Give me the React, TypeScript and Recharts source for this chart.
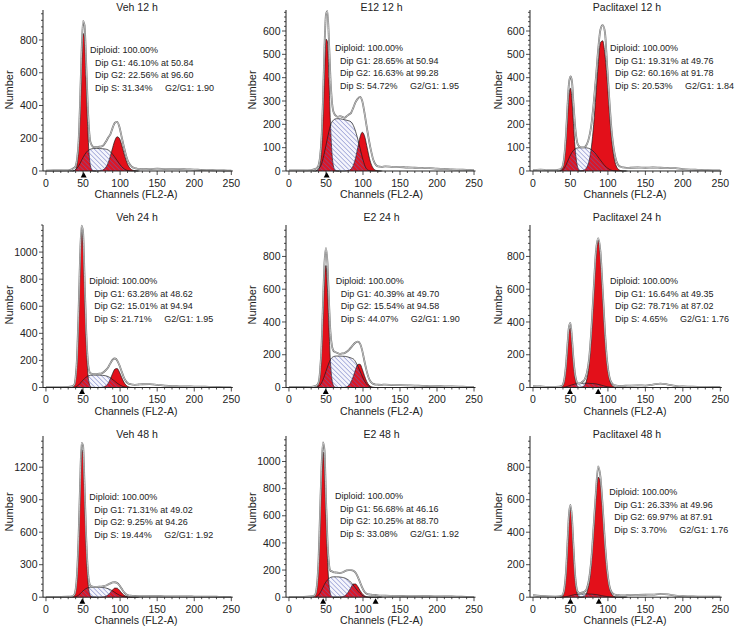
import React from 'react'
import { ComposedChart, Area, Line, Scatter, XAxis, YAxis } from 'recharts'

const FONT = '"Liberation Sans", Arial, Helvetica, sans-serif'
const RED = '#e3101a'
const INK = '#222'

// channel grids the values below were read on
const RAW_CH = [0, 10, 20, 30, 35, 38, 40, 42, 44, 46, 48, 50, 52, 54, 56, 58, 60, 63, 66, 69, 72, 75, 78, 81, 84, 87, 90, 93, 96, 99, 102, 105, 108, 111, 114, 117, 120, 125, 130, 140, 150, 160, 170, 180, 190, 200, 210, 220, 230, 240, 250]
const G1_CH = [32, 34, 36, 38, 40, 42, 44, 46, 48, 50, 52, 54, 56, 58, 60, 62, 64, 66, 68]
const G2_CH = [60, 63, 66, 69, 72, 75, 78, 81, 84, 87, 90, 93, 96, 99, 102, 105, 108, 111, 114, 117, 120, 123, 126]
const S_CH = [36, 40, 44, 48, 52, 56, 60, 64, 68, 72, 76, 80, 84, 88, 92, 96, 100, 104, 108, 112, 116, 120, 124]

const X_MAJOR = [0, 50, 100, 150, 200, 250]

// Veh 12 h
const veh12Raw = [2, 3, 3, 4, 10, 20, 30, 75, 180, 420, 720, 915, 890, 690, 440, 260, 175, 150, 145, 145, 148, 150, 160, 180, 205, 225, 265, 295, 300, 270, 210, 150, 95, 55, 35, 22, 18, 12, 13, 12, 14, 12, 11, 12, 10, 9, 6, 5, 4, 3, 2]
const veh12G1 = [0, 0, 0, 1, 9, 43, 143, 349, 628, 840, 812, 573, 300, 115, 32, 7, 1, 0, 0]
const veh12G2 = [0, 0, 0, 0, 1, 3, 10, 24, 51, 93, 143, 187, 209, 200, 162, 112, 66, 33, 14, 5, 2, 0, 0]
const veh12S = [0, 8, 30, 65, 98, 122, 133, 137, 138, 137, 136, 134, 128, 112, 90, 64, 38, 18, 6, 1, 0, 0, 0]
const veh12Stats = ['46.10', '50.84', '22.56', '96.60', '31.34', '1.90']
const veh12Marks = [50.84]

// E12 12 h
const e12Raw = [3, 3, 3, 4, 8, 14, 25, 60, 140, 310, 530, 670, 685, 560, 400, 300, 255, 238, 232, 235, 232, 228, 235, 242, 250, 272, 295, 310, 318, 300, 250, 190, 133, 85, 47, 28, 20, 18, 20, 18, 17, 15, 14, 13, 12, 10, 9, 7, 6, 5, 4]
const e12G1 = [0, 0, 0, 1, 6, 27, 91, 226, 412, 565, 555, 393, 209, 81, 23, 5, 1, 0, 0]
const e12G2 = [0, 0, 0, 0, 0, 0, 1, 2, 9, 25, 56, 101, 145, 166, 151, 110, 64, 30, 11, 3, 1, 0, 0]
const e12S = [0, 10, 30, 80, 140, 195, 218, 224, 224, 222, 219, 216, 210, 188, 148, 98, 48, 12, 2, 0, 0, 0, 0]
const e12Stats = ['28.65', '50.94', '16.63', '99.28', '54.72', '1.95']
const e12Marks = [50.94]

// Paclitaxel 12 h
const pac12Raw = [4, 6, 4, 4, 6, 12, 25, 70, 155, 275, 375, 405, 385, 290, 200, 140, 112, 103, 101, 103, 115, 145, 200, 290, 400, 520, 605, 625, 595, 450, 300, 170, 90, 45, 25, 18, 15, 13, 14, 15, 14, 15, 14, 13, 12, 8, 6, 5, 4, 3, 3]
const pac12G1 = [0, 0, 1, 5, 18, 54, 126, 229, 323, 355, 304, 203, 105, 43, 13, 3, 1, 0, 0]
const pac12G2 = [0, 0, 2, 5, 17, 45, 103, 199, 326, 456, 550, 558, 500, 390, 250, 135, 60, 22, 7, 2, 0, 0, 0]
const pac12S = [0, 5, 25, 55, 80, 94, 99, 100, 100, 99, 95, 86, 72, 55, 38, 22, 11, 4, 1, 0, 0, 0, 0]
const pac12Stats = ['19.31', '49.76', '60.16', '91.78', '20.53', '1.84']
const pac12Marks: number[] = []

// Veh 24 h
const veh24Raw = [3, 3, 3, 4, 8, 18, 75, 230, 560, 960, 1195, 1150, 820, 460, 230, 130, 105, 100, 98, 100, 102, 105, 115, 130, 150, 180, 205, 214, 200, 165, 120, 75, 45, 30, 25, 22, 20, 22, 24, 25, 20, 14, 10, 9, 8, 7, 6, 5, 4, 3, 3]
const veh24G1 = [0, 0, 3, 15, 68, 219, 522, 900, 1150, 1075, 740, 380, 143, 39, 8, 1, 0, 0, 0]
const veh24G2 = [0, 0, 0, 0, 0, 1, 4, 12, 32, 65, 105, 136, 140, 115, 76, 40, 17, 6, 1, 0, 0, 0, 0]
const veh24S = [0, 4, 18, 42, 66, 83, 90, 92, 92, 91, 90, 87, 80, 67, 50, 32, 17, 7, 2, 0, 0, 0, 0]
const veh24Stats = ['63.28', '48.62', '15.01', '94.94', '21.71', '1.95']
const veh24Marks = [48.62]

// E2 24 h
const e224Raw = [3, 3, 3, 4, 8, 14, 30, 100, 250, 520, 760, 850, 760, 530, 340, 255, 225, 215, 210, 205, 208, 210, 218, 230, 245, 262, 275, 280, 268, 225, 160, 100, 55, 32, 22, 18, 17, 16, 18, 15, 14, 13, 12, 10, 9, 8, 7, 6, 5, 4, 3]
const e224G1 = [0, 0, 1, 4, 20, 75, 212, 440, 667, 745, 607, 365, 161, 52, 13, 2, 0, 0, 0]
const e224G2 = [0, 0, 0, 0, 0, 1, 4, 14, 35, 69, 110, 141, 142, 112, 72, 37, 15, 5, 1, 0, 0, 0, 0]
const e224S = [0, 6, 28, 72, 125, 170, 188, 192, 192, 191, 190, 186, 180, 170, 140, 100, 58, 25, 7, 1, 0, 0, 0]
const e224Stats = ['40.39', '49.70', '15.54', '94.58', '44.07', '1.90']
const e224Marks = [49.7]

// Paclitaxel 24 h
const pac24Raw = [8, 6, 4, 4, 5, 8, 18, 55, 135, 260, 370, 395, 300, 175, 85, 40, 25, 25, 35, 50, 90, 180, 360, 600, 830, 912, 830, 600, 345, 160, 65, 28, 15, 12, 10, 10, 10, 11, 12, 13, 12, 18, 24, 18, 10, 6, 5, 4, 4, 3, 3]
const pac24G1 = [0, 0, 0, 3, 12, 45, 121, 237, 345, 362, 278, 158, 66, 20, 5, 1, 0, 0, 0]
const pac24G2 = [0, 1, 4, 15, 53, 147, 324, 572, 804, 900, 804, 572, 324, 147, 53, 15, 4, 1, 0, 0, 0, 0, 0]
const pac24S = [0, 1, 4, 10, 16, 21, 24, 25, 26, 26, 25, 24, 22, 18, 13, 8, 4, 2, 0, 0, 0, 0, 0]
const pac24Stats = ['16.64', '49.35', '78.71', '87.02', '4.65', '1.76']
const pac24Marks = [49.35, 87.02]

// Veh 48 h
const veh48Raw = [3, 3, 3, 4, 8, 20, 70, 230, 560, 1030, 1425, 1400, 1040, 600, 300, 150, 105, 97, 95, 96, 97, 98, 102, 108, 118, 128, 136, 138, 130, 110, 80, 48, 28, 18, 14, 12, 11, 10, 10, 9, 9, 8, 8, 7, 7, 6, 5, 5, 4, 3, 3]
const veh48G1 = [0, 0, 2, 13, 60, 207, 522, 969, 1365, 1330, 969, 522, 207, 60, 13, 2, 0, 0, 0]
const veh48G2 = [0, 0, 0, 0, 0, 1, 3, 9, 23, 44, 68, 84, 83, 65, 40, 20, 8, 2, 1, 0, 0, 0, 0]
const veh48S = [0, 4, 18, 45, 70, 86, 92, 93, 93, 92, 90, 86, 78, 65, 48, 30, 15, 6, 2, 0, 0, 0, 0]
const veh48Stats = ['71.31', '49.02', '9.25', '94.26', '19.44', '1.92']
const veh48Marks = [49.02]

// E2 48 h
const e248Raw = [3, 3, 3, 5, 15, 100, 280, 620, 960, 1140, 1080, 730, 420, 250, 195, 190, 185, 182, 180, 178, 182, 190, 198, 200, 200, 195, 180, 150, 110, 70, 40, 25, 20, 18, 17, 16, 14, 12, 11, 10, 9, 8, 8, 7, 7, 6, 5, 5, 4, 3, 3]
const e248G1 = [0, 4, 20, 82, 248, 549, 893, 1070, 939, 606, 287, 100, 26, 5, 1, 0, 0, 0, 0]
const e248G2 = [0, 0, 0, 1, 3, 9, 23, 46, 74, 97, 97, 78, 50, 26, 11, 3, 1, 0, 0, 0, 0, 0, 0]
const e248S = [0, 15, 50, 95, 128, 145, 150, 150, 149, 146, 140, 128, 108, 80, 52, 28, 10, 2, 0, 0, 0, 0, 0]
const e248Stats = ['56.68', '46.16', '10.25', '88.70', '33.08', '1.92']
const e248Marks = [46.16, 117]

// Paclitaxel 48 h
const pac48Raw = [12, 8, 5, 4, 5, 8, 18, 58, 155, 330, 510, 568, 490, 315, 150, 60, 30, 25, 30, 35, 55, 115, 240, 440, 650, 805, 740, 560, 340, 170, 70, 30, 18, 14, 12, 11, 11, 12, 13, 14, 15, 16, 20, 17, 10, 6, 5, 4, 4, 3, 3]
const pac48G1 = [0, 0, 0, 2, 12, 48, 141, 303, 478, 555, 473, 296, 136, 46, 11, 2, 0, 0, 0]
const pac48G2 = [0, 0, 2, 8, 31, 92, 217, 409, 615, 738, 705, 537, 326, 158, 61, 19, 5, 1, 0, 0, 0, 0, 0]
const pac48S = [0, 1, 3, 7, 12, 16, 18, 19, 20, 20, 19, 18, 16, 13, 9, 6, 3, 1, 0, 0, 0, 0, 0]
const pac48Stats = ['26.33', '49.96', '69.97', '87.91', '3.70', '1.76']
const pac48Marks = [49.96, 87.91]

const PANELS = [
  { title: 'Veh 12 h', raw: veh12Raw, g1: veh12G1, g2: veh12G2, s: veh12S, stats: veh12Stats, marks: veh12Marks, yMax: 983, yMajor: [0, 200, 400, 600, 800], yMinor: 40 },
  { title: 'E12 12 h', raw: e12Raw, g1: e12G1, g2: e12G2, s: e12S, stats: e12Stats, marks: e12Marks, yMax: 690, yMajor: [0, 100, 200, 300, 400, 500, 600], yMinor: 20 },
  { title: 'Paclitaxel 12 h', raw: pac12Raw, g1: pac12G1, g2: pac12G2, s: pac12S, stats: pac12Stats, marks: pac12Marks, yMax: 690, yMajor: [0, 100, 200, 300, 400, 500, 600], yMinor: 20 },
  { title: 'Veh 24 h', raw: veh24Raw, g1: veh24G1, g2: veh24G2, s: veh24S, stats: veh24Stats, marks: veh24Marks, yMax: 1200, yMajor: [0, 200, 400, 600, 800, 1000], yMinor: 40 },
  { title: 'E2 24 h', raw: e224Raw, g1: e224G1, g2: e224G2, s: e224S, stats: e224Stats, marks: e224Marks, yMax: 992, yMajor: [0, 200, 400, 600, 800], yMinor: 40 },
  { title: 'Paclitaxel 24 h', raw: pac24Raw, g1: pac24G1, g2: pac24G2, s: pac24S, stats: pac24Stats, marks: pac24Marks, yMax: 992, yMajor: [0, 200, 400, 600, 800], yMinor: 40 },
  { title: 'Veh 48 h', raw: veh48Raw, g1: veh48G1, g2: veh48G2, s: veh48S, stats: veh48Stats, marks: veh48Marks, yMax: 1488, yMajor: [0, 300, 600, 900, 1200], yMinor: 60 },
  { title: 'E2 48 h', raw: e248Raw, g1: e248G1, g2: e248G2, s: e248S, stats: e248Stats, marks: e248Marks, yMax: 1188, yMajor: [0, 200, 400, 600, 800, 1000], yMinor: 40 },
  { title: 'Paclitaxel 48 h', raw: pac48Raw, g1: pac48G1, g2: pac48G2, s: pac48S, stats: pac48Stats, marks: pac48Marks, yMax: 992, yMajor: [0, 200, 400, 600, 800], yMinor: 40 },
]

// layout of the 3x3 grid (plot areas, page px)
const COL_LEFT = [42.7, 286, 529.7]
const COL_W = [189.8, 189.5, 191.8]
const ROW_TOP = [9.5, 224.5, 435.5]
const ROW_H = [161, 162.5, 161.2]
const TITLE_X = [137, 381.5, 627]
const TITLE_Y = [10.7, 220.7, 438]
const XLAB_X = [136, 381.5, 625]
const YLAB_X = [12.5, 256, 502]
const YLAB_Y = [90, 305, 512]
const ANNO = [[90, 50], [335, 48], [610, 48], [89.3, 281], [335.7, 281], [610, 281], [89.3, 497], [335, 496], [609.3, 492]]

const Y_W = 40
const M_T = 6
const M_R = 14
const X_H = 24

const toPoints = (ch: number[], vals: number[]) => vals.map((v, i) => ({ ch: ch[i], v }))

function XTick(props: any) {
  const { x, y, payload } = props
  const major = X_MAJOR.includes(payload.value)
  return (
    <g>
      <line x1={x} x2={x} y1={y} y2={y + (major ? 4 : 2)} stroke={INK} strokeWidth={0.8} />
      {major && (
        <text x={x} y={y + 15.8} textAnchor="middle" fontSize={10.5} fill={INK} fontFamily={FONT}>
          {payload.value}
        </text>
      )}
    </g>
  )
}

function YTick(props: any) {
  const { x, y, payload, majors } = props
  const major = majors.includes(payload.value)
  return (
    <g>
      <line x1={x} x2={x - (major ? 4 : 2)} y1={y} y2={y} stroke={INK} strokeWidth={0.8} />
      {major && (
        <text x={x - 5.5} y={y + 3.7} textAnchor="end" fontSize={10.5} fill={INK} fontFamily={FONT}>
          {payload.value}
        </text>
      )}
    </g>
  )
}

const Tri = (props: any) => {
  const { cx, cy } = props
  return <polygon points={`${cx},${cy + 1} ${cx - 3},${cy + 6.5} ${cx + 3},${cy + 6.5}`} fill="#000" />
}

function Histogram({ p, idx }: { p: (typeof PANELS)[number]; idx: number }) {
  const col = idx % 3
  const row = Math.floor(idx / 3)
  const width = Y_W + COL_W[col] + M_R
  const height = M_T + ROW_H[row] + X_H
  const yTicks: number[] = []
  for (let v = 0; v <= p.yMax + 0.01; v += p.yMinor) yTicks.push(v)
  const xTicks: number[] = []
  for (let v = 0; v <= 250; v += 10) xTicks.push(v)
  const hatchId = `hatch-${idx}`

  return (
    <div style={{ position: 'absolute', left: COL_LEFT[col] - Y_W, top: ROW_TOP[row] - M_T }}>
      <ComposedChart width={width} height={height} margin={{ top: M_T, right: M_R, left: 0, bottom: 0 }}>
        <defs>
          <pattern id={hatchId} patternUnits="userSpaceOnUse" width={3.2} height={3.2} patternTransform="rotate(-45)">
            <rect width={3.2} height={3.2} fill="rgba(120,120,210,0.07)" />
            <line x1={0} y1={0} x2={0} y2={3.2} stroke="#5c66bb" strokeWidth={0.9} />
          </pattern>
        </defs>
        <XAxis
          type="number"
          dataKey="ch"
          domain={[-4, 252]}
          ticks={xTicks}
          interval={0}
          tickSize={0}
          tickMargin={0}
          height={X_H}
          tickLine={false}
          axisLine={{ stroke: INK, strokeWidth: 1 }}
          tick={(t: any) => <XTick {...t} />}
        />
        <YAxis
          type="number"
          domain={[0, p.yMax]}
          ticks={yTicks}
          interval={0}
          tickSize={0}
          tickMargin={0}
          width={Y_W}
          tickLine={false}
          axisLine={{ stroke: INK, strokeWidth: 1 }}
          tick={(t: any) => <YTick {...t} majors={p.yMajor} />}
        />
        <Area data={toPoints(G1_CH, p.g1)} dataKey="v" type="monotone" fill={RED} fillOpacity={1} stroke="#1a1a1a" strokeWidth={0.7} isAnimationActive={false} />
        <Area data={toPoints(G2_CH, p.g2)} dataKey="v" type="monotone" fill={RED} fillOpacity={1} stroke="#1a1a1a" strokeWidth={0.7} isAnimationActive={false} />
        <Area data={toPoints(S_CH, p.s)} dataKey="v" type="monotone" fill={`url(#${hatchId})`} fillOpacity={1} stroke="#1a1a1a" strokeWidth={0.7} isAnimationActive={false} />
        <Line data={toPoints(RAW_CH, p.raw)} dataKey="v" type="monotone" stroke="#6a6a6a" strokeWidth={1.8} dot={false} activeDot={false} isAnimationActive={false} />
        <Line data={toPoints(RAW_CH, p.raw)} dataKey="v" type="monotone" stroke="#ffffff" strokeWidth={0.6} dot={false} activeDot={false} isAnimationActive={false} />
        {p.marks.length > 0 && (
          <Scatter data={p.marks.map((m) => ({ ch: m, v: 0 }))} dataKey="v" shape={Tri} isAnimationActive={false} />
        )}
      </ComposedChart>
    </div>
  )
}

export default function App() {
  return (
    <div style={{ position: 'absolute', left: 0, top: 0, width: 740, height: 629, background: '#fff', fontFamily: FONT }}>
      {PANELS.map((p, i) => (
        <Histogram key={p.title} p={p} idx={i} />
      ))}
      <svg width={740} height={629} style={{ position: 'absolute', left: 0, top: 0, pointerEvents: 'none' }} fontFamily={FONT}>
        {PANELS.map((p, i) => {
          const col = i % 3
          const row = Math.floor(i / 3)
          const [ax, ay] = ANNO[i]
          const by = ay + 3.3
          const [g1Pct, g1Mean, g2Pct, g2Mean, sPct, ratio] = p.stats
          return (
            <g key={p.title}>
              <text x={TITLE_X[col]} y={TITLE_Y[row]} textAnchor="middle" fontSize={10.5} fill={INK}>{p.title}</text>
              <text x={XLAB_X[col]} y={ROW_TOP[row] + ROW_H[row] + 27.5} textAnchor="middle" fontSize={10.5} fill={INK}>Channels (FL2-A)</text>
              <text transform={`translate(${YLAB_X[col]}, ${YLAB_Y[row]}) rotate(-90)`} textAnchor="middle" fontSize={11} fill={INK}>Number</text>
              <g fontSize={9} fill={INK}>
                <text x={ax} y={by}>Diploid: 100.00%</text>
                <text x={ax + 5} y={by + 12.4}>{`Dip G1: ${g1Pct}% at ${g1Mean}`}</text>
                <text x={ax + 5} y={by + 24.8}>{`Dip G2: ${g2Pct}% at ${g2Mean}`}</text>
                <text x={ax + 5} y={by + 37.2}>
                  <tspan>{`Dip S: ${sPct}%`}</tspan>
                  <tspan dx={12.5}>{`G2/G1: ${ratio}`}</tspan>
                </text>
              </g>
            </g>
          )
        })}
      </svg>
    </div>
  )
}
